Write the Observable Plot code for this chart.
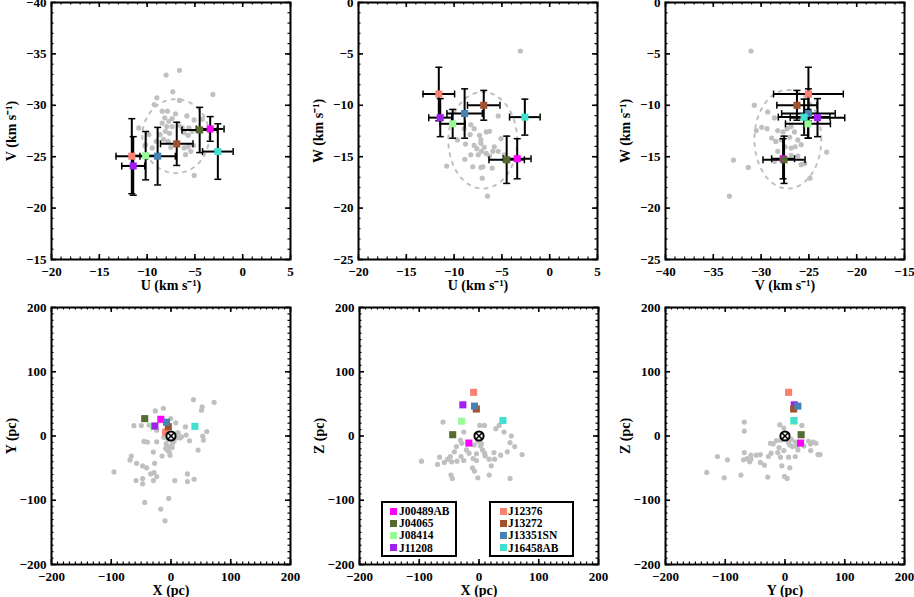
<!DOCTYPE html>
<html><head><meta charset="utf-8">
<script src="https://cdn.jsdelivr.net/npm/d3@7"></script>
<script src="https://cdn.jsdelivr.net/npm/@observablehq/plot@0.6"></script>
<style>
html,body{margin:0;padding:0;background:#fff;}
#wrap{position:relative;width:914px;height:597px;overflow:hidden;background:#fff;}
.panel{position:absolute;}
.legend{position:absolute;border:2px solid #000;background:#fff;box-sizing:border-box;font:bold 11.5px "Liberation Serif",serif;color:#000;}
.legend .row{position:absolute;white-space:nowrap;line-height:12px;}
.legend .sq{position:absolute;width:7px;height:7px;}
</style></head><body><div id="wrap"></div>
<script>
// ---- Stars of the group ----
const stars = ["J00489AB","J04065","J08414","J11208","J12376","J13272","J13351SN","J16458AB"];
const starColors = ["#ff00ff","#556b2f","#98fb98","#a020f0","#fa8072","#a0522d","#4682b4","#40e0d0"];
// UVW velocities (km/s) and uncertainties
const U  = [-3.4, -4.5, -10.15, -11.45, -11.6, -6.9, -8.9, -2.6];
const V  = [-27.7, -27.6, -25.1, -24.1, -25.05, -26.25, -25.05, -25.5];
const W  = [-15.2, -15.3, -11.8, -11.2, -8.9, -10.0, -10.8, -11.15];
const eU = [1.45, 1.85, 1.3, 1.2, 1.65, 1.7, 1.85, 1.6];
const eV = [1.2, 2.2, 2.35, 2.85, 3.65, 2.1, 2.8, 2.7];
const eW = [1.95, 2.3, 1.4, 1.85, 2.6, 1.45, 2.4, 1.75];
// XYZ positions (pc)
const X = [-17, -44, -29, -27, -9, -4.5, -7.5, 40];
const Y = [26, 27, 15, 15.5, 6, 14.5, 21.5, 15];
const Z = [-11, 2, 23, 48.5, 68, 42, 46.5, 24];

// ---- Known members (grey) ----
const uvGrey = [[-8.01,-32.94],[-6.61,-33.40],[-3.12,-31.06],[-8.98,-30.73],[-7.31,-31.32],[-9.26,-30.08],[-6.61,-30.47],[-8.42,-29.43],[-7.87,-29.43],[-7.03,-29.17],[-5.84,-28.97],[-5.08,-28.58],[-4.24,-28.65],[-8.15,-28.78],[-7.73,-28.45],[-7.38,-28.71],[-8.42,-28.26],[-7.94,-27.93],[-7.38,-27.93],[-6.68,-28.06],[-6.33,-27.80],[-5.63,-27.80],[-5.29,-27.47],[-6.12,-27.34],[-5.70,-27.08],[-8.08,-27.47],[-7.66,-27.28],[-8.63,-27.15],[-8.28,-26.69],[-7.80,-26.50],[-7.52,-25.91],[-6.12,-25.85],[-5.70,-25.98],[-5.15,-26.11],[-5.98,-25.20],[-5.43,-25.52],[-10.87,-27.80],[-9.82,-27.15],[-9.05,-26.50],[-9.47,-25.85],[-10.17,-26.17],[-5.08,-23.18]];
const uwGrey = [[-3.07,-4.72],[-5.38,-11.03],[-8.25,-11.88],[-7.90,-12.27],[-8.32,-12.85],[-7.20,-13.37],[-6.64,-12.59],[-6.29,-12.53],[-7.90,-13.90],[-7.62,-14.22],[-7.20,-13.70],[-6.85,-14.09],[-6.64,-14.68],[-6.29,-14.94],[-5.94,-14.48],[-5.80,-14.03],[-5.38,-14.48],[-7.13,-14.48],[-7.48,-14.81],[-8.25,-14.81],[-8.88,-15.26],[-8.81,-13.77],[-10.78,-15.91],[-8.04,-15.98],[-7.20,-16.04],[-6.99,-15.98],[-6.01,-16.11],[-7.06,-17.09],[-6.50,-18.84],[-4.75,-14.81],[-4.54,-15.33],[-9.65,-13.37],[-8.95,-12.27],[-7.34,-12.92],[-5.10,-13.24]];
const vwGrey = [[-31.06,-4.72],[-30.71,-9.99],[-29.31,-10.64],[-28.61,-11.23],[-30.50,-12.46],[-29.94,-12.14],[-29.38,-12.27],[-28.26,-12.46],[-28.89,-13.18],[-28.47,-13.51],[-27.70,-12.59],[-27.28,-12.27],[-26.86,-12.07],[-26.51,-12.59],[-27.00,-13.11],[-26.16,-13.37],[-25.81,-13.83],[-26.44,-14.03],[-26.86,-14.16],[-27.49,-14.03],[-27.91,-13.37],[-28.26,-14.48],[-26.86,-14.87],[-26.16,-14.94],[-25.81,-15.78],[-28.61,-15.46],[-23.14,-14.55],[-32.89,-15.33],[-31.34,-16.04],[-33.31,-18.84],[-24.89,-17.09],[-25.45,-15.65]];
const xyGrey = [[37.6,56.6],[72.2,52.4],[52.1,45.2],[51.0,40.1],[-12.7,43.2],[-26.2,39.0],[-0.4,27.2],[8.0,20.5],[-49.6,16.3],[-36.7,17],[-62,16],[24.2,14.3],[59.9,7.0],[53.2,-0.2],[54.3,-6.4],[30.9,-7.4],[45.4,-21.9],[25.3,1.4],[17.4,-1.2],[11.9,5.0],[11,5],[-23.9,9.1],[-45.2,-8.4],[-39.6,-9.5],[-23.9,-9.0],[-29.5,-25.0],[-15.0,-31.1],[-1.6,-30.1],[-8.8,-19.3],[-3.2,-16.7],[2.4,-11.5],[-6.0,-21.9],[-5,-5],[5,-8],[-8,-12],[2,-18],[-3,-25],[8,-3],[-12,-2],[15,-3],[-66.4,-31.1],[-68.6,-37.3],[-57.5,-42.5],[-47.4,-46.6],[-40.7,-49.7],[-27.3,-42.5],[-95.5,-55.9],[-34.0,-59.0],[-28.4,-57.0],[-23.9,-63.1],[-58.6,-69.3],[-47.4,-66.2],[-47.4,-74.5],[-29.5,-69.3],[6.3,-69.3],[27.5,-59.0],[27.5,-70.9],[38.7,-67.3],[-44.0,-103.4],[-3.8,-97.2],[-17.2,-113.7],[-10,-132]];
const xzGrey = [[-60.3,21.7],[-25.5,6.2],[1.2,16.5],[9.0,16.5],[28.1,11.4],[33.7,16.5],[41.8,6.2],[54.1,0.0],[51.9,-10.3],[59.7,-16.5],[47.4,-24.7],[36.2,-29.9],[25.0,-25.8],[72.1,-28.9],[26.1,-36.1],[17.1,-36.1],[9.3,-26.8],[5.9,-21.6],[-4.2,-27.8],[-16.6,-26.8],[-21.0,-21.6],[-28.9,-11.3],[-31.1,-6.2],[-37.9,-16.5],[-41.2,-24.7],[-48.0,-31.9],[-52.5,-36.1],[-45.7,-40.2],[-58.1,-41.2],[-69.3,-44.3],[-65.9,-33.0],[-96.2,-39.2],[-36.8,-39.2],[-25.5,-38.1],[-30.0,-31.9],[-9.8,-35.0],[-4.2,-38.1],[-11.0,-49.5],[-7.6,-54.6],[-46.9,-60.8],[-44.6,-66.0],[-2.0,-65.0],[17.1,-60.8],[20.5,-46.4],[51.9,-66.0],[10.4,-31.0],[2.5,-15.5],[-2,-8],[4,-12],[-8,-14]];
const yzGrey = [[-68.2,21.7],[-68.2,7.7],[-8.7,17.5],[-2.0,12.4],[28.3,16.5],[-24.4,-11.3],[-19.9,-12.4],[-14.3,-7.2],[-6.5,-6.2],[5.9,-10.3],[10.4,-5.1],[17.1,-9.3],[12.6,-16.5],[21.6,-21.6],[31.7,-15.5],[39.5,-8.2],[42.9,-12.4],[47.4,-9.3],[51.9,-11.3],[42.9,-22.7],[55.2,-28.9],[58.6,-28.9],[-2.0,-22.7],[-12.1,-25.8],[-23.3,-26.8],[-27.8,-31.9],[17.1,-31.9],[5.9,-33.0],[-7.6,-33.0],[-5.3,-46.4],[8.1,-49.5],[-0.9,-62.9],[3.6,-66.0],[-28.9,-63.9],[-68.2,-25.8],[-57.0,-29.9],[-48.0,-29.9],[-41.3,-28.9],[-57.0,-36.1],[-63.7,-35.0],[-69.3,-37.1],[-59.2,-40.2],[-41.3,-41.2],[-34.5,-45.4],[-113.1,-32.0],[-96.2,-37.1],[-131.0,-56.7],[-101.8,-65.0],[-73.8,-60.8],[-5,-2],[3,-4],[8,-14],[-10,-18],[20,-16]];

// ---- Velocity ellipses (centre, semi-axes) ----
const uvEllipse = {cx: -7.0, cy: -27.0, rx: 3.5, ry: 3.6};
const uwEllipse = {cx: -7.0, cy: -13.4, rx: 3.6, ry: 4.7};
const vwEllipse = {cx: -27.2, cy: -13.3, rx: 3.5, ry: 4.8};

// ---- Ticks ----
const uTicks = [-20, -15, -10, -5, 0, 5];
const vTicksX = [-40, -35, -30, -25, -20, -15];
const vTicksY = [-40, -35, -30, -25, -20, -15];
const wTicks = [-25, -20, -15, -10, -5, 0];
const pcTicks = [-200, -100, 0, 100, 200];
const sun = [[0, 0]];

const GREY = "#c0c0c0";
const FW = 239, FH = 257;           // frame size
const mL = 55, mR = 10, mT = 10, mB = 40;

const hCap = {draw(ctx, size){ const r = Math.sqrt(size / Math.PI); ctx.moveTo(-r, 0); ctx.lineTo(r, 0); }};
const vCap = {draw(ctx, size){ const r = Math.sqrt(size / Math.PI); ctx.moveTo(0, -r); ctx.lineTo(0, r); }};

function ellipsePts(e) {
  return d3.range(0, 361, 3).map(t => {
    const a = t * Math.PI / 180;
    return {x: e.cx + e.rx * Math.cos(a), y: e.cy + e.ry * Math.sin(a)};
  });
}

function rowsOf(a, b, ea, eb) {
  return stars.map((name, i) => ({name, color: starColors[i], a: a[i], b: b[i], ea: ea ? ea[i] : 0, eb: eb ? eb[i] : 0}));
}

function velMarks(a, ea, b, eb, grey, ell) {
  const rows = rowsOf(a, b, ea, eb);
  return [
    Plot.dot(grey, {x: d => d[0], y: d => d[1], r: 2.6, fill: GREY}),
    Plot.line(ellipsePts(ell), {x: "x", y: "y", stroke: GREY, strokeWidth: 2, strokeDasharray: "3,6"}),
    Plot.ruleY(rows, {y: "b", x1: d => d.a - d.ea, x2: d => d.a + d.ea, stroke: "black", strokeWidth: 2}),
    Plot.ruleX(rows, {x: "a", y1: d => d.b - d.eb, y2: d => d.b + d.eb, stroke: "black", strokeWidth: 2}),
    Plot.dot(rows, {x: d => d.a - d.ea, y: "b", symbol: vCap, r: 3.5, stroke: "black", strokeWidth: 1.5, fill: "none"}),
    Plot.dot(rows, {x: d => d.a + d.ea, y: "b", symbol: vCap, r: 3.5, stroke: "black", strokeWidth: 1.5, fill: "none"}),
    Plot.dot(rows, {x: "a", y: d => d.b - d.eb, symbol: hCap, r: 3.5, stroke: "black", strokeWidth: 1.5, fill: "none"}),
    Plot.dot(rows, {x: "a", y: d => d.b + d.eb, symbol: hCap, r: 3.5, stroke: "black", strokeWidth: 1.5, fill: "none"}),
    Plot.dot(rows, {x: "a", y: "b", symbol: "square", r: 4, fill: "color"})
  ];
}

function posMarks(a, b, grey) {
  const rows = rowsOf(a, b);
  return [
    Plot.dot(grey, {x: d => d[0], y: d => d[1], r: 2.6, fill: GREY}),
    Plot.dot(rows, {x: "a", y: "b", symbol: "square", r: 4, fill: "color"}),
    Plot.dot(sun, {x: d => d[0], y: d => d[1], r: 4.6, stroke: "black", strokeWidth: 2, fill: "white"}),
    Plot.dot(sun, {x: d => d[0], y: d => d[1], symbol: "times", r: 2.8, stroke: "black", strokeWidth: 1.6})
  ];
}

function panel({left, top, xDomain, yDomain, xTicks, yTicks, minor, xLabel, yLabel, marks}) {
  const xMinor = d3.range(Math.min(...xDomain), Math.max(...xDomain) + 1e-9, minor);
  const yMinor = d3.range(Math.min(...yDomain), Math.max(...yDomain) + 1e-9, minor);
  const p = Plot.plot({
    width: mL + FW + mR, height: mT + FH + mB,
    marginLeft: mL, marginRight: mR, marginTop: mT, marginBottom: mB,
    style: {fontFamily: '"Liberation Serif", serif', fontWeight: "bold", fontSize: "13px", background: "transparent", overflow: "visible", color: "black"},
    x: {domain: xDomain},
    y: {domain: yDomain},
    marks: [
      ...marks,
      Plot.tickX(xMinor, {x: d => d, insetTop: FH - 2.5, stroke: "black", strokeWidth: 1.2}),
      Plot.tickX(xMinor, {x: d => d, insetBottom: FH - 2.5, stroke: "black", strokeWidth: 1.2}),
      Plot.tickY(yMinor, {y: d => d, insetRight: FW - 2.5, stroke: "black", strokeWidth: 1.2}),
      Plot.tickY(yMinor, {y: d => d, insetLeft: FW - 2.5, stroke: "black", strokeWidth: 1.2}),
      Plot.tickX(xTicks, {x: d => d, insetTop: FH - 5, stroke: "black", strokeWidth: 1.6}),
      Plot.tickX(xTicks, {x: d => d, insetBottom: FH - 5, stroke: "black", strokeWidth: 1.6}),
      Plot.tickY(yTicks, {y: d => d, insetRight: FW - 5, stroke: "black", strokeWidth: 1.6}),
      Plot.tickY(yTicks, {y: d => d, insetLeft: FW - 5, stroke: "black", strokeWidth: 1.6}),
      Plot.axisX(xTicks, {tickSize: 0, tickPadding: 7, label: xLabel, labelAnchor: "center", labelOffset: 30, labelArrow: "none"}),
      Plot.axisY(yTicks, {tickSize: 0, tickPadding: 5, label: yLabel, labelAnchor: "center", labelOffset: 45, labelArrow: "none"}),
      Plot.frame({stroke: "black", strokeWidth: 2})
    ]
  });
  d3.select(p).selectAll('g[aria-label="x-axis label"] text, g[aria-label="y-axis label"] text').attr("font-size", 14);
  p.classList.add("panel");
  p.style.left = (left - mL) + "px";
  p.style.top = (top - mT) + "px";
  document.getElementById("wrap").appendChild(p);
}

const velLabel = s => `${s} (km s\u207B\u00B9)`;
const rowTop = 1.5, rowBot = 307;

panel({left: 51, top: rowTop, xDomain: [-20, 5], yDomain: [-15, -40], xTicks: uTicks, yTicks: vTicksY, minor: 1,
  xLabel: velLabel("U"), yLabel: velLabel("V"), marks: velMarks(U, eU, V, eV, uvGrey, uvEllipse)});
panel({left: 358, top: rowTop, xDomain: [-20, 5], yDomain: [-25, 0], xTicks: uTicks, yTicks: wTicks, minor: 1,
  xLabel: velLabel("U"), yLabel: velLabel("W"), marks: velMarks(U, eU, W, eW, uwGrey, uwEllipse)});
panel({left: 665, top: rowTop, xDomain: [-40, -15], yDomain: [-25, 0], xTicks: vTicksX, yTicks: wTicks, minor: 1,
  xLabel: velLabel("V"), yLabel: velLabel("W"), marks: velMarks(V, eV, W, eW, vwGrey, vwEllipse)});
panel({left: 51, top: rowBot, xDomain: [-200, 200], yDomain: [-200, 200], xTicks: pcTicks, yTicks: pcTicks, minor: 10,
  xLabel: "X (pc)", yLabel: "Y (pc)", marks: posMarks(X, Y, xyGrey)});
panel({left: 359, top: rowBot, xDomain: [-200, 200], yDomain: [-200, 200], xTicks: pcTicks, yTicks: pcTicks, minor: 10,
  xLabel: "X (pc)", yLabel: "Z (pc)", marks: posMarks(X, Z, xzGrey)});
panel({left: 665, top: rowBot, xDomain: [-200, 200], yDomain: [-200, 200], xTicks: pcTicks, yTicks: pcTicks, minor: 10,
  xLabel: "Y (pc)", yLabel: "Z (pc)", marks: posMarks(Y, Z, yzGrey)});

// ---- Legend (two boxes in the X-Z panel) ----
function legendBox(indices, left, top, width, height, markX, textX) {
  const box = document.createElement("div");
  box.className = "legend";
  Object.assign(box.style, {left: left + "px", top: top + "px", width: width + "px", height: height + "px"});
  indices.forEach((i, k) => {
    const cy = 8 + k * 12.2;
    const sq = document.createElement("div");
    sq.className = "sq";
    Object.assign(sq.style, {left: (markX - 3.5) + "px", top: (cy - 3.5) + "px", background: starColors[i]});
    const t = document.createElement("div");
    t.className = "row";
    t.textContent = stars[i];
    Object.assign(t.style, {left: textX + "px", top: (cy - 6) + "px"});
    box.appendChild(sq); box.appendChild(t);
  });
  document.getElementById("wrap").appendChild(box);
}
legendBox([0, 1, 2, 3], 381, 501, 76, 56, 10, 16);
legendBox([4, 5, 6, 7], 489, 501, 85, 56, 12, 17);
</script>
</body></html>
